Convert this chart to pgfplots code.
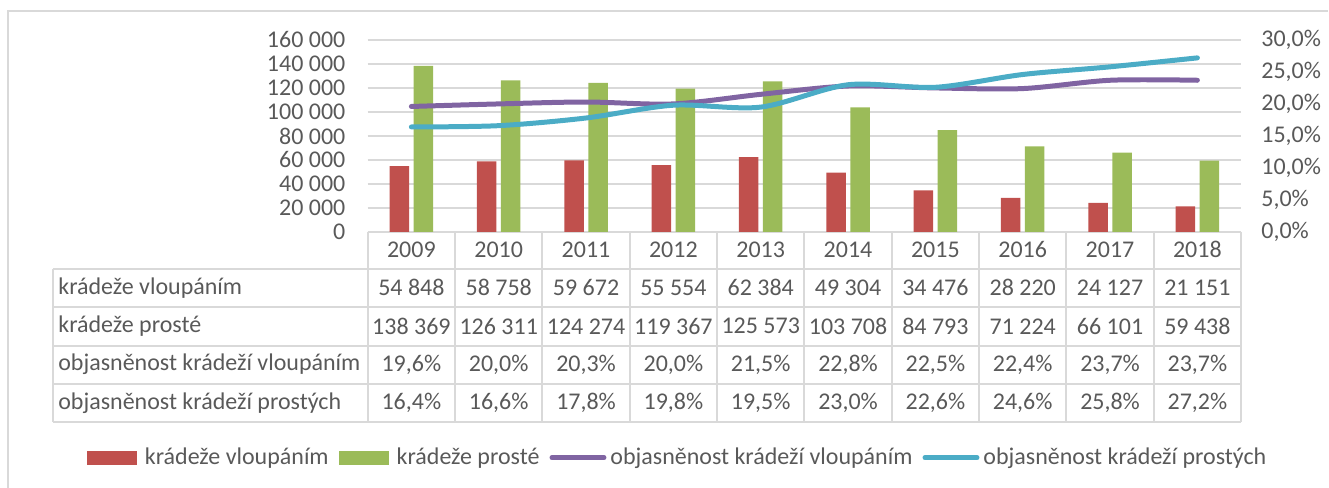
\documentclass[border=0pt]{standalone}
\usepackage{fontspec}
\setmainfont{Carlito}
\usepackage{pgfplots}
\pgfplotsset{compat=1.18}

\definecolor{barred}{HTML}{C0504D}
\definecolor{bargreen}{HTML}{9BBB59}
\definecolor{linepurple}{HTML}{8064A2}
\definecolor{lineblue}{HTML}{4BACC6}
\definecolor{txt}{HTML}{595959}
\definecolor{gridc}{HTML}{D9D9D9}

\pgfplotsset{
  barlegend/.style={legend image code/.code={\fill[##1] (0pt,-3.5pt) rectangle (25pt,3.5pt); \path (27pt,0pt);}},
  linelegend/.style={legend image code/.code={\draw[##1] (1pt,0pt) -- (27pt,0pt);}},
}

\begin{document}
\fontsize{12}{14}\selectfont
\begin{tikzpicture}
% pixel frame (1px = 0.5pt, y down)
\begin{scope}[x=0.5pt,y=-0.5pt]
  \path[use as bounding box] (0,0) rectangle (1329,488);
  \draw[gridc, line width=1pt] (8,488) -- (8,11) -- (1329,11);
\end{scope}

% bars, left axis
\begin{axis}[
  at={(184pt,-116pt)}, anchor=south west,
  scale only axis, width=437pt, height=96pt,
  xmin=-0.5, xmax=9.5, ymin=0, ymax=160000,
  xtick=\empty,
  ytick={0,20000,40000,60000,80000,100000,120000,140000,160000},
  yticklabels={0,20 000,40 000,60 000,80 000,100 000,120 000,140 000,160 000},
  scaled y ticks=false,
  yticklabel style={text=txt, xshift=-7pt},
  axis y line*=left, axis x line*=bottom,
  axis line style={draw=none}, major tick length=0pt,
  ymajorgrids, grid style={draw=gridc, line width=1pt},
  ybar, bar width=9.75pt,
  clip=false,
]
  \addplot[fill=barred, draw=none, bar shift=-6pt] coordinates {
    (0,54848) (1,58758) (2,59672) (3,55554) (4,62384)
    (5,49304) (6,34476) (7,28220) (8,24127) (9,21151)};
  \addplot[fill=bargreen, draw=none, bar shift=6pt] coordinates {
    (0,138369) (1,126311) (2,124274) (3,119367) (4,125573)
    (5,103708) (6,84793) (7,71224) (8,66101) (9,59438)};
\end{axis}

% lines, right axis
\begin{axis}[
  at={(184pt,-116pt)}, anchor=south west,
  scale only axis, width=437pt, height=96pt,
  xmin=-0.5, xmax=9.5, ymin=0, ymax=30,
  xtick=\empty,
  ytick={0,5,10,15,20,25,30},
  yticklabels={{0,0\%},{5,0\%},{10,0\%},{15,0\%},{20,0\%},{25,0\%},{30,0\%}},
  yticklabel style={text=txt, anchor=west, xshift=6pt},
  axis y line*=right, axis x line=none,
  axis line style={draw=none}, major tick length=0pt,
  clip=false,
  legend style={at={(0.356,-1.177)}, anchor=center, draw=none, fill=none,
    legend columns=4, text=txt,
    /tikz/every even column/.append style={column sep=3pt}},
  legend cell align=left,
]
  \addlegendimage{fill=barred, draw=none, barlegend}
  \addlegendimage{fill=bargreen, draw=none, barlegend}
  \addplot[linepurple, line width=2.5pt, line cap=round, smooth, no marks, linelegend] coordinates {
    (0,19.6) (1,20.0) (2,20.3) (3,20.0) (4,21.5)
    (5,22.8) (6,22.5) (7,22.4) (8,23.7) (9,23.7)};
  \addplot[lineblue, line width=2.5pt, line cap=round, smooth, no marks, linelegend] coordinates {
    (0,16.4) (1,16.6) (2,17.8) (3,19.8) (4,19.5)
    (5,23.0) (6,22.6) (7,24.6) (8,25.8) (9,27.2)};
  \legend{krádeže vloupáním, krádeže prosté, objasněnost krádeží vloupáním, objasněnost krádeží prostých}
\end{axis}

% data table
\begin{scope}[x=0.5pt,y=-0.5pt]
  \draw[gridc, line width=1pt] (53,269) -- (1242,269);
  \foreach \yy in {307.5,346,384.3,422.7}
    \draw[gridc, line width=1pt] (53,\yy) -- (1242,\yy);
  \draw[gridc, line width=1pt] (53,269) -- (53,422.7);
  \foreach \i in {0,...,10}
    \draw[gridc, line width=1pt] ({368+87.4*\i},232) -- ({368+87.4*\i},422.7);
  \foreach \t [count=\i from 0] in {2009,2010,2011,2012,2013,2014,2015,2016,2017,2018}
    \node[text=txt] at ({368+87.4*(\i+0.5)},250) {\t};
  \node[text=txt, anchor=west] at (50,288) {krádeže vloupáním};
  \node[text=txt, anchor=west] at (50,326.5) {krádeže prosté};
  \node[text=txt, anchor=west] at (50,365) {objasněnost krádeží vloupáním};
  \node[text=txt, anchor=west] at (50,403.5) {objasněnost krádeží prostých};
  \foreach \t [count=\i from 0] in {54 848,58 758,59 672,55 554,62 384,49 304,34 476,28 220,24 127,21 151}
    \node[text=txt] at ({368+87.4*(\i+0.5)},288) {\t};
  \foreach \t [count=\i from 0] in {138 369,126 311,124 274,119 367,125 573,103 708,84 793,71 224,66 101,59 438}
    \node[text=txt] at ({368+87.4*(\i+0.5)},326.5) {\t};
  \foreach \t [count=\i from 0] in {{19,6\%},{20,0\%},{20,3\%},{20,0\%},{21,5\%},{22,8\%},{22,5\%},{22,4\%},{23,7\%},{23,7\%}}
    \node[text=txt] at ({368+87.4*(\i+0.5)},365) {\t};
  \foreach \t [count=\i from 0] in {{16,4\%},{16,6\%},{17,8\%},{19,8\%},{19,5\%},{23,0\%},{22,6\%},{24,6\%},{25,8\%},{27,2\%}}
    \node[text=txt] at ({368+87.4*(\i+0.5)},403.5) {\t};
\end{scope}
\end{tikzpicture}
\end{document}
